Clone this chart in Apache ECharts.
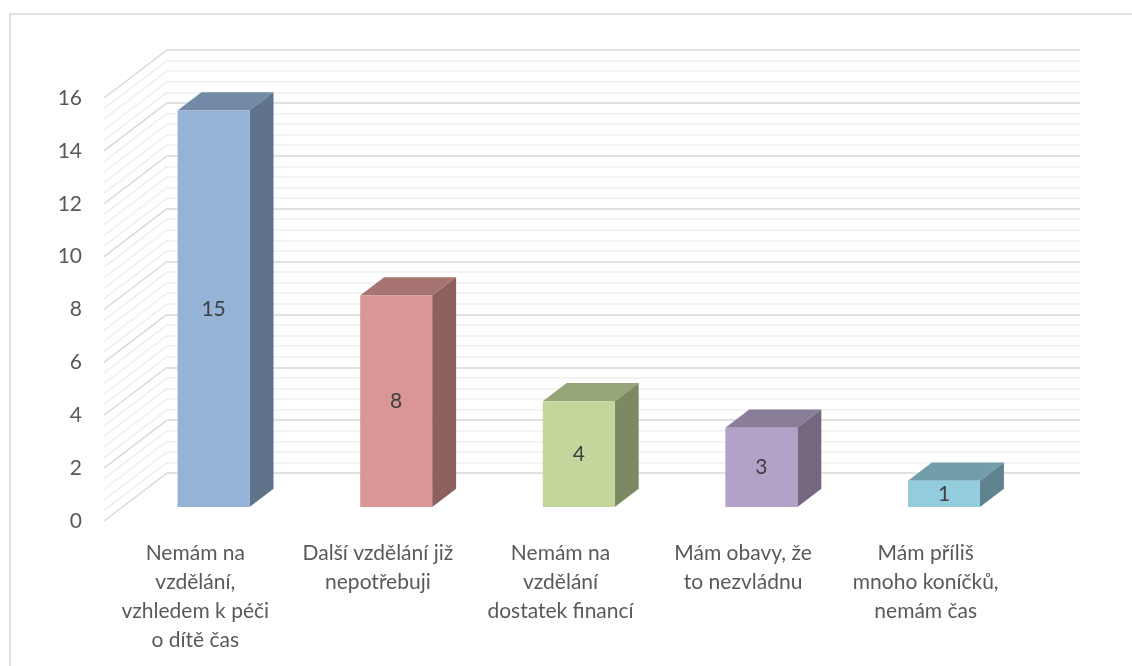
<!DOCTYPE html>
<html>
<head>
<meta charset="utf-8">
<script src="https://cdn.jsdelivr.net/npm/echarts@6/dist/echarts.min.js"></script>
<style>
  html, body { margin: 0; padding: 0; background: #fff; }
  #chart { width: 1132px; height: 666px; }
</style>
</head>
<body>
<div id="chart"></div>
<script>
// categories, values and the y ticks of the chart
const categories = [
  'Nemám na\nvzdělání,\nvzhledem k péči\no dítě čas',
  'Další vzdělání již\nnepotřebuji',
  'Nemám na\nvzdělání\ndostatek financí',
  'Mám obavy, že\nto nezvládnu',
  'Mám příliš\nmnoho koníčků,\nnemám čas'
]
const values = [15, 8, 4, 3, 1]
const yMin = 0
const yMax = 16
const yStep = 2

const faceColors = ['#95B3D7', '#D99694', '#C3D69B', '#B3A2C7', '#93CDDD']

// depth of the 3D box (front plane -> back wall), in pixels
const DEPTH_X = 63
const DEPTH_Y = -48
const BAR_FRONT = 0.29 // bar front face at this part of the depth
const BAR_BACK = 0.38 // bar depth
const BAR_W = 72

const FONT = 'Lato'
const FONT_SIZE = 21

function shade (hex, k) {
  const n = parseInt(hex.slice(1), 16)
  const r = Math.round(((n >> 16) & 255) * k)
  const g = Math.round(((n >> 8) & 255) * k)
  const b = Math.round((n & 255) * k)
  return 'rgb(' + r + ',' + g + ',' + b + ')'
}

// gridline values for the side wall (major + minor)
const wallLines = []
for (let k = 0; k <= (yMax - yMin) / yStep * 5; k++) {
  wallLines.push([0, yMin + k * yStep / 5])
}

const dom = document.getElementById('chart')
const chart = echarts.init(dom, null, { renderer: 'canvas' })

const option = {
  animation: false,
  backgroundColor: '#fff',
  graphic: [{
    type: 'rect',
    shape: { x: 10, y: 14, width: 1140, height: 680 },
    style: { fill: 'none', stroke: '#d9d9d9', lineWidth: 1.5 },
    silent: true
  }],
  grid: [
    // front plane
    { left: 104, right: 115, top: 98, bottom: 145 },
    // back wall
    { left: 104 + DEPTH_X, right: 115 - DEPTH_X, top: 98 + DEPTH_Y, bottom: 145 - DEPTH_Y }
  ],
  xAxis: [
    {
      type: 'category',
      gridIndex: 0,
      data: categories,
      axisLine: { show: false },
      axisTick: { show: false },
      axisLabel: {
        interval: 0,
        margin: 18,
        color: '#595959',
        fontFamily: FONT,
        fontSize: FONT_SIZE,
        lineHeight: 29
      }
    },
    {
      type: 'category',
      gridIndex: 1,
      data: categories,
      show: false
    }
  ],
  yAxis: [
    {
      type: 'value',
      gridIndex: 0,
      min: yMin,
      max: yMax,
      interval: yStep,
      axisLine: { show: false },
      axisTick: { show: false },
      splitLine: { show: false },
      axisLabel: {
        margin: 22,
        color: '#595959',
        fontFamily: FONT,
        fontSize: FONT_SIZE
      }
    },
    {
      type: 'value',
      gridIndex: 1,
      min: yMin,
      max: yMax,
      interval: yStep,
      axisLine: { show: false },
      axisTick: { show: false },
      axisLabel: { show: false },
      splitLine: { lineStyle: { color: '#d9d9d9', width: 1.5 } },
      minorTick: { show: false, splitNumber: 5 },
      minorSplitLine: { show: true, lineStyle: { color: '#efefef', width: 1.5 } }
    }
  ],
  series: [
    {
      // side wall gridlines
      type: 'custom',
      xAxisIndex: 0,
      yAxisIndex: 0,
      silent: true,
      data: wallLines,
      renderItem (params, api) {
        const v = api.value(1)
        const y = api.coord([0, v])[1]
        const x = params.coordSys.x
        const major = Math.abs(v / yStep - Math.round(v / yStep)) < 1e-6
        return {
          type: 'line',
          shape: { x1: x, y1: y, x2: x + DEPTH_X, y2: y + DEPTH_Y },
          style: { stroke: major ? '#d9d9d9' : '#efefef', lineWidth: 1.5 }
        }
      }
    },
    {
      // 3D bars
      type: 'custom',
      xAxisIndex: 0,
      yAxisIndex: 0,
      data: values.map((v, i) => [i, v]),
      renderItem (params, api) {
        const i = api.value(0)
        const v = api.value(1)
        const base = api.coord([i, 0])
        const top = api.coord([i, v])
        const ox = DEPTH_X * BAR_FRONT
        const oy = DEPTH_Y * BAR_FRONT
        const dx = DEPTH_X * BAR_BACK
        const dy = DEPTH_Y * BAR_BACK
        const xl = base[0] - BAR_W / 2 + ox
        const xr = base[0] + BAR_W / 2 + ox
        const yb = base[1] + oy
        const yt = top[1] + oy
        const c = faceColors[i]
        return {
          type: 'group',
          children: [
            {
              type: 'polygon',
              shape: { points: [[xl, yt], [xr, yt], [xr + dx, yt + dy], [xl + dx, yt + dy]] },
              style: { fill: shade(c, 0.77) }
            },
            {
              type: 'polygon',
              shape: { points: [[xr, yt], [xr + dx, yt + dy], [xr + dx, yb + dy], [xr, yb]] },
              style: { fill: shade(c, 0.64) }
            },
            {
              type: 'rect',
              shape: { x: xl, y: yt, width: xr - xl, height: yb - yt },
              style: { fill: c }
            },
            {
              type: 'text',
              x: (xl + xr) / 2,
              y: (yt + yb) / 2,
              style: {
                text: String(v),
                fill: '#404040',
                font: FONT_SIZE + 'px ' + FONT,
                align: 'center',
                verticalAlign: 'middle'
              }
            }
          ]
        }
      }
    }
  ]
}

chart.setOption(option)
</script>
</body>
</html>
